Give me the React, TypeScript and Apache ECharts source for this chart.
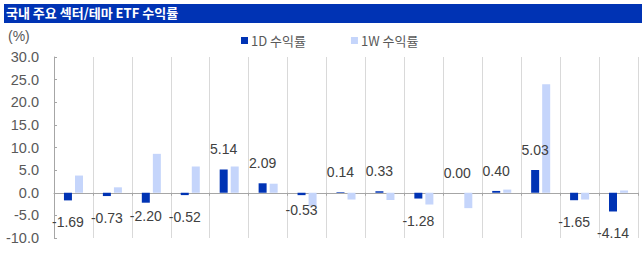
import React, { useEffect, useRef } from "react";
import * as echarts from "echarts";

const categories = ["1", "2", "3", "4", "5", "6", "7", "8", "9", "10", "11", "12", "13", "14", "15"];
const oneDay = [-1.69, -0.73, -2.2, -0.52, 5.14, 2.09, -0.53, 0.14, 0.33, -1.28, 0.0, 0.4, 5.03, -1.65, -4.14];
const oneWeek = [3.8, 1.2, 8.6, 5.8, 5.8, 2.0, -3.0, -1.5, -1.6, -2.6, -3.4, 0.7, 24.0, -1.5, 0.5];
const labelDistance = [15, 15, 6, 15, 13, 13, 8, 13, 13, 15, 13, 13, 13, 15, 15];
const yTicks = { min: -10, max: 30, interval: 5 };
const legendNames = ["1D 수익률", "1W 수익률"];
const titleText = "국내 주요 섹터/테마 ETF 수익률";

const FONT = "'Noto Sans CJK KR', 'Noto Sans', sans-serif";
const NUMFONT = "'Liberation Sans', Arial, sans-serif";
const GRAY = "#595959";

export default function App() {
  const ref = useRef<HTMLDivElement>(null);
  useEffect(() => {
    document.body.style.margin = "0";
    const chart = echarts.init(ref.current!, null, { renderer: "svg" });
    chart.setOption({
      animation: false,
      textStyle: { fontFamily: FONT },
      graphic: [
        { type: "rect", left: 4, top: 4, shape: { width: 638, height: 19 }, style: { fill: "#0033B4" } },
        {
          type: "text",
          left: 6,
          top: 5.5,
          style: { text: titleText, fill: "#ffffff", font: `bold 13px ${FONT}` },
        },
        {
          type: "text",
          left: 8,
          top: 29,
          style: { text: "(%)", fill: GRAY, font: `14px ${NUMFONT}` },
        },
      ],
      legend: {
        top: 29,
        left: 236,
        itemWidth: 7,
        itemHeight: 7,
        itemGap: 45,
        icon: "rect",
        textStyle: { color: GRAY, fontSize: 13, fontFamily: FONT, padding: [0, 0, 0, -2] },
        data: legendNames,
      },
      grid: { left: 54, right: 4, top: 57, bottom: 16, containLabel: false },
      xAxis: {
        type: "category",
        data: categories,
        axisLine: { onZero: true, lineStyle: { color: "#A6A6A6", width: 1 } },
        axisTick: { show: true, length: 3, lineStyle: { color: "#A6A6A6" } },
        axisLabel: { show: false },
        splitLine: { show: true, lineStyle: { color: "#D9D9D9", width: 1 } },
      },
      yAxis: {
        type: "value",
        min: yTicks.min,
        max: yTicks.max,
        interval: yTicks.interval,
        axisLine: { show: true, lineStyle: { color: "#A6A6A6" } },
        axisTick: { show: true, inside: true, length: 3, lineStyle: { color: "#A6A6A6" } },
        splitLine: { show: false },
        axisLabel: {
          color: GRAY,
          fontSize: 14.5,
          fontFamily: NUMFONT,
          margin: 15,
          formatter: (v: number) => v.toFixed(1),
        },
      },
      series: [
        {
          name: legendNames[0],
          type: "bar",
          barWidth: 8,
          barGap: "38%",
          itemStyle: { color: "#0033B4" },
          data: oneDay.map((v, i) => ({
            value: v,
            label: {
              show: true,
              position: v < 0 ? "bottom" : "top",
              distance: labelDistance[i],
              color: "#404040",
              fontSize: 14,
              fontFamily: NUMFONT,
              formatter: () => v.toFixed(2),
            },
          })),
        },
        {
          name: legendNames[1],
          type: "bar",
          barWidth: 8,
          barGap: "38%",
          itemStyle: { color: "#C5D5FB" },
          data: oneWeek,
        },
      ],
    });
    return () => chart.dispose();
  }, []);
  return <div ref={ref} style={{ width: 642, height: 254 }} />;
}
